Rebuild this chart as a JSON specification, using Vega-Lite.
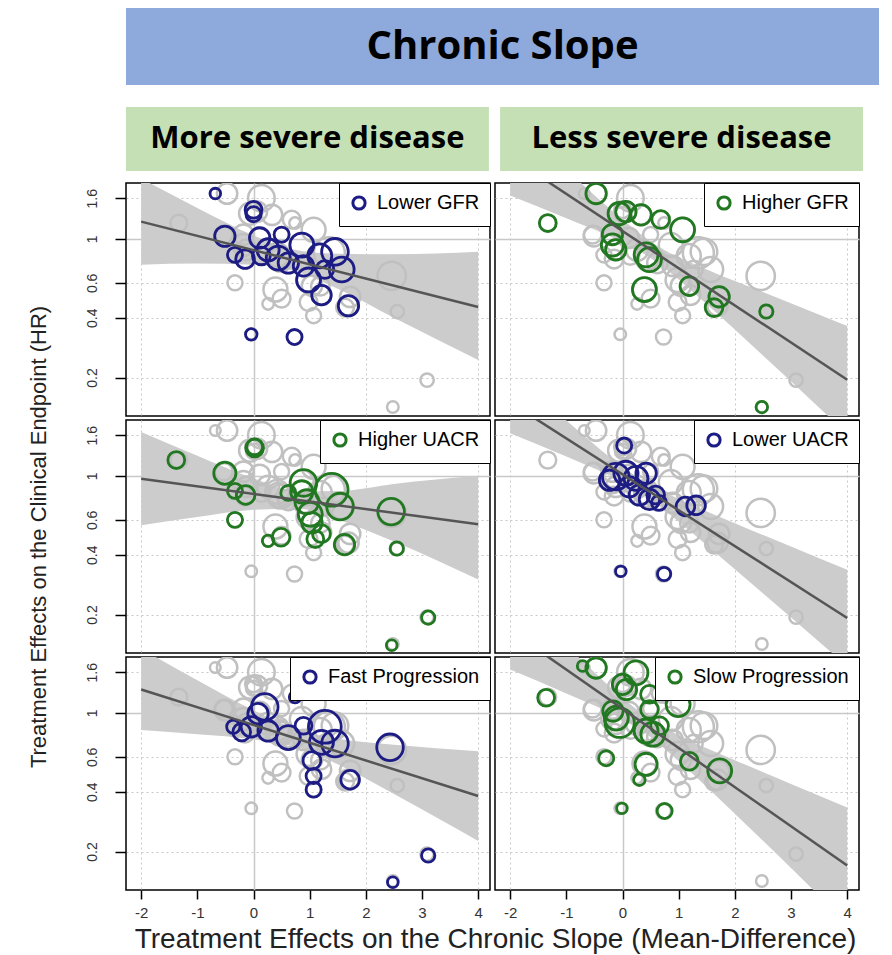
{
  "$schema": "https://vega.github.io/schema/vega-lite/v6.json",
  "background": "white",
  "padding": {"left": 26, "top": 8, "right": 10, "bottom": 2},
  "bounds": "flush",
  "spacing": 22,
  "datasets": {
    "studies": [
      {"x": -0.68, "hr": 1.69, "w": 12}, {"x": 0.0, "hr": 1.40, "w": 19}, {"x": 0.0, "hr": 1.33, "w": 17},
      {"x": -0.51, "hr": 1.03, "w": 23}, {"x": -0.33, "hr": 0.83, "w": 17}, {"x": -0.15, "hr": 0.79, "w": 21},
      {"x": 0.11, "hr": 1.01, "w": 23}, {"x": 0.26, "hr": 0.88, "w": 25}, {"x": 0.5, "hr": 1.05, "w": 17},
      {"x": 0.44, "hr": 0.80, "w": 27}, {"x": 0.62, "hr": 0.755, "w": 23}, {"x": 0.86, "hr": 0.93, "w": 27},
      {"x": 0.89, "hr": 0.73, "w": 23}, {"x": 0.98, "hr": 0.62, "w": 27}, {"x": 1.18, "hr": 0.82, "w": 27},
      {"x": 1.45, "hr": 0.86, "w": 30}, {"x": 1.57, "hr": 0.70, "w": 28}, {"x": 1.21, "hr": 0.52, "w": 22},
      {"x": 1.69, "hr": 0.46, "w": 23}, {"x": -0.04, "hr": 0.33, "w": 13}, {"x": 0.73, "hr": 0.32, "w": 17},
      {"x": 1.27, "hr": 0.70, "w": 20}, {"x": 0.14, "hr": 0.82, "w": 20},
      {"x": -0.47, "hr": 1.69, "w": 23}, {"x": -1.33, "hr": 1.20, "w": 19}, {"x": -0.06, "hr": 1.34, "w": 25},
      {"x": 0.06, "hr": 1.37, "w": 23}, {"x": 0.33, "hr": 1.32, "w": 23}, {"x": 0.68, "hr": 1.25, "w": 20},
      {"x": 1.07, "hr": 1.11, "w": 27}, {"x": -0.18, "hr": 1.05, "w": 23}, {"x": -0.18, "hr": 0.93, "w": 25},
      {"x": -0.12, "hr": 0.88, "w": 23}, {"x": 0.42, "hr": 0.83, "w": 27}, {"x": 0.48, "hr": 0.785, "w": 27},
      {"x": 0.39, "hr": 0.555, "w": 27}, {"x": 1.19, "hr": 0.577, "w": 21}, {"x": 1.72, "hr": 0.51, "w": 23},
      {"x": 1.63, "hr": 0.45, "w": 20}, {"x": 2.56, "hr": 0.43, "w": 15}, {"x": 2.48, "hr": 0.142, "w": 13},
      {"x": 0.14, "hr": 1.60, "w": 30}, {"x": 2.46, "hr": 0.65, "w": 32}, {"x": -0.33, "hr": 0.60, "w": 17},
      {"x": 0.5, "hr": 0.50, "w": 20}, {"x": 0.26, "hr": 0.47, "w": 13}, {"x": 1.07, "hr": 0.41, "w": 17},
      {"x": 3.09, "hr": 0.194, "w": 15}, {"x": 0.98, "hr": 0.48, "w": 20}, {"x": -0.53, "hr": 1.05, "w": 20},
      {"x": 0.74, "hr": 1.20, "w": 13}, {"x": 1.35, "hr": 0.85, "w": 35}, {"x": 1.04, "hr": 0.58, "w": 23}
    ],
    "sub": [
      {"panel": "Lower GFR", "x": -0.68, "hr": 1.69, "w": 12}, {"panel": "Lower GFR", "x": 0.0, "hr": 1.40, "w": 19},
      {"panel": "Lower GFR", "x": 0.0, "hr": 1.33, "w": 17}, {"panel": "Lower GFR", "x": -0.51, "hr": 1.03, "w": 23},
      {"panel": "Lower GFR", "x": -0.33, "hr": 0.83, "w": 17}, {"panel": "Lower GFR", "x": -0.15, "hr": 0.79, "w": 21},
      {"panel": "Lower GFR", "x": 0.11, "hr": 1.01, "w": 23}, {"panel": "Lower GFR", "x": 0.26, "hr": 0.88, "w": 25},
      {"panel": "Lower GFR", "x": 0.5, "hr": 1.05, "w": 17}, {"panel": "Lower GFR", "x": 0.44, "hr": 0.80, "w": 27},
      {"panel": "Lower GFR", "x": 0.62, "hr": 0.755, "w": 23}, {"panel": "Lower GFR", "x": 0.86, "hr": 0.93, "w": 27},
      {"panel": "Lower GFR", "x": 0.89, "hr": 0.73, "w": 23}, {"panel": "Lower GFR", "x": 0.98, "hr": 0.62, "w": 27},
      {"panel": "Lower GFR", "x": 1.18, "hr": 0.82, "w": 27}, {"panel": "Lower GFR", "x": 1.45, "hr": 0.86, "w": 30},
      {"panel": "Lower GFR", "x": 1.57, "hr": 0.70, "w": 28}, {"panel": "Lower GFR", "x": 1.21, "hr": 0.52, "w": 22},
      {"panel": "Lower GFR", "x": 1.69, "hr": 0.46, "w": 23}, {"panel": "Lower GFR", "x": -0.04, "hr": 0.33, "w": 13},
      {"panel": "Lower GFR", "x": 0.73, "hr": 0.32, "w": 17}, {"panel": "Lower GFR", "x": 1.27, "hr": 0.70, "w": 20},
      {"panel": "Lower GFR", "x": 0.14, "hr": 0.82, "w": 20},
      {"panel": "Higher GFR", "x": -0.47, "hr": 1.69, "w": 23}, {"panel": "Higher GFR", "x": -1.33, "hr": 1.20, "w": 19},
      {"panel": "Higher GFR", "x": -0.06, "hr": 1.34, "w": 25}, {"panel": "Higher GFR", "x": 0.06, "hr": 1.37, "w": 23},
      {"panel": "Higher GFR", "x": 0.33, "hr": 1.32, "w": 23}, {"panel": "Higher GFR", "x": 0.68, "hr": 1.25, "w": 20},
      {"panel": "Higher GFR", "x": 1.07, "hr": 1.11, "w": 27}, {"panel": "Higher GFR", "x": -0.18, "hr": 1.05, "w": 23},
      {"panel": "Higher GFR", "x": -0.18, "hr": 0.93, "w": 25}, {"panel": "Higher GFR", "x": -0.12, "hr": 0.88, "w": 23},
      {"panel": "Higher GFR", "x": 0.42, "hr": 0.83, "w": 27}, {"panel": "Higher GFR", "x": 0.48, "hr": 0.785, "w": 27},
      {"panel": "Higher GFR", "x": 0.39, "hr": 0.555, "w": 27}, {"panel": "Higher GFR", "x": 1.19, "hr": 0.577, "w": 21},
      {"panel": "Higher GFR", "x": 1.72, "hr": 0.51, "w": 23}, {"panel": "Higher GFR", "x": 1.63, "hr": 0.45, "w": 20},
      {"panel": "Higher GFR", "x": 2.56, "hr": 0.43, "w": 15}, {"panel": "Higher GFR", "x": 2.48, "hr": 0.142, "w": 13},
      {"panel": "Higher UACR", "x": -1.375, "hr": 1.20, "w": 19}, {"panel": "Higher UACR", "x": 0.02, "hr": 1.38, "w": 20},
      {"panel": "Higher UACR", "x": 0.02, "hr": 1.40, "w": 18}, {"panel": "Higher UACR", "x": -0.51, "hr": 1.03, "w": 25},
      {"panel": "Higher UACR", "x": -0.33, "hr": 0.84, "w": 17}, {"panel": "Higher UACR", "x": -0.14, "hr": 0.80, "w": 21},
      {"panel": "Higher UACR", "x": -0.33, "hr": 0.60, "w": 17}, {"panel": "Higher UACR", "x": 0.49, "hr": 0.49, "w": 20},
      {"panel": "Higher UACR", "x": 0.26, "hr": 0.47, "w": 13}, {"panel": "Higher UACR", "x": 0.62, "hr": 0.82, "w": 17},
      {"panel": "Higher UACR", "x": 0.89, "hr": 0.92, "w": 30}, {"panel": "Higher UACR", "x": 0.86, "hr": 0.83, "w": 25},
      {"panel": "Higher UACR", "x": 0.95, "hr": 0.74, "w": 27}, {"panel": "Higher UACR", "x": 1.39, "hr": 0.85, "w": 37},
      {"panel": "Higher UACR", "x": 1.54, "hr": 0.70, "w": 30}, {"panel": "Higher UACR", "x": 1.01, "hr": 0.64, "w": 27},
      {"panel": "Higher UACR", "x": 1.04, "hr": 0.58, "w": 23}, {"panel": "Higher UACR", "x": 1.21, "hr": 0.51, "w": 20},
      {"panel": "Higher UACR", "x": 1.10, "hr": 0.48, "w": 19}, {"panel": "Higher UACR", "x": 1.62, "hr": 0.45, "w": 23},
      {"panel": "Higher UACR", "x": 2.45, "hr": 0.66, "w": 30}, {"panel": "Higher UACR", "x": 2.55, "hr": 0.43, "w": 15},
      {"panel": "Higher UACR", "x": 3.11, "hr": 0.193, "w": 15}, {"panel": "Higher UACR", "x": 2.46, "hr": 0.14, "w": 12},
      {"panel": "Lower UACR", "x": 0.03, "hr": 1.42, "w": 17}, {"panel": "Lower UACR", "x": -0.12, "hr": 0.99, "w": 30},
      {"panel": "Lower UACR", "x": 0.06, "hr": 1.03, "w": 27}, {"panel": "Lower UACR", "x": 0.24, "hr": 0.97, "w": 27},
      {"panel": "Lower UACR", "x": 0.42, "hr": 1.03, "w": 23}, {"panel": "Lower UACR", "x": 0.12, "hr": 0.88, "w": 23},
      {"panel": "Lower UACR", "x": 0.30, "hr": 0.80, "w": 23}, {"panel": "Lower UACR", "x": 0.48, "hr": 0.76, "w": 23},
      {"panel": "Lower UACR", "x": 0.59, "hr": 0.80, "w": 20}, {"panel": "Lower UACR", "x": 0.65, "hr": 0.73, "w": 17},
      {"panel": "Lower UACR", "x": 1.12, "hr": 0.70, "w": 21}, {"panel": "Lower UACR", "x": 1.31, "hr": 0.71, "w": 21},
      {"panel": "Lower UACR", "x": -0.03, "hr": 0.33, "w": 12}, {"panel": "Lower UACR", "x": 0.74, "hr": 0.32, "w": 15},
      {"panel": "Lower UACR", "x": -0.23, "hr": 0.95, "w": 23},
      {"panel": "Fast Progression", "x": 0.74, "hr": 1.20, "w": 13}, {"panel": "Fast Progression", "x": 0.2, "hr": 1.07, "w": 30},
      {"panel": "Fast Progression", "x": 0.08, "hr": 0.99, "w": 23}, {"panel": "Fast Progression", "x": -0.36, "hr": 0.85, "w": 15},
      {"panel": "Fast Progression", "x": -0.21, "hr": 0.80, "w": 20}, {"panel": "Fast Progression", "x": -0.04, "hr": 0.85, "w": 23},
      {"panel": "Fast Progression", "x": 0.26, "hr": 0.81, "w": 23}, {"panel": "Fast Progression", "x": 0.62, "hr": 0.75, "w": 27},
      {"panel": "Fast Progression", "x": 0.89, "hr": 0.86, "w": 19}, {"panel": "Fast Progression", "x": 1.27, "hr": 0.85, "w": 37},
      {"panel": "Fast Progression", "x": 1.21, "hr": 0.71, "w": 27}, {"panel": "Fast Progression", "x": 1.45, "hr": 0.70, "w": 30},
      {"panel": "Fast Progression", "x": 1.04, "hr": 0.575, "w": 20}, {"panel": "Fast Progression", "x": 1.07, "hr": 0.48, "w": 17},
      {"panel": "Fast Progression", "x": 1.07, "hr": 0.41, "w": 17}, {"panel": "Fast Progression", "x": 1.72, "hr": 0.46, "w": 21},
      {"panel": "Fast Progression", "x": 2.43, "hr": 0.67, "w": 30}, {"panel": "Fast Progression", "x": 3.11, "hr": 0.191, "w": 15},
      {"panel": "Fast Progression", "x": 2.48, "hr": 0.14, "w": 12},
      {"panel": "Slow Progression", "x": -1.36, "hr": 1.19, "w": 19}, {"panel": "Slow Progression", "x": -0.71, "hr": 1.72, "w": 12},
      {"panel": "Slow Progression", "x": -0.47, "hr": 1.68, "w": 23}, {"panel": "Slow Progression", "x": 0.0, "hr": 1.39, "w": 23},
      {"panel": "Slow Progression", "x": 0.07, "hr": 1.31, "w": 23}, {"panel": "Slow Progression", "x": 0.24, "hr": 1.59, "w": 27},
      {"panel": "Slow Progression", "x": 0.48, "hr": 1.24, "w": 20}, {"panel": "Slow Progression", "x": 0.99, "hr": 1.10, "w": 27},
      {"panel": "Slow Progression", "x": -0.17, "hr": 1.02, "w": 23}, {"panel": "Slow Progression", "x": -0.11, "hr": 0.94, "w": 27},
      {"panel": "Slow Progression", "x": -0.05, "hr": 0.89, "w": 33}, {"panel": "Slow Progression", "x": 0.48, "hr": 1.04, "w": 20},
      {"panel": "Slow Progression", "x": 0.42, "hr": 0.81, "w": 27}, {"panel": "Slow Progression", "x": 0.54, "hr": 0.78, "w": 27},
      {"panel": "Slow Progression", "x": 0.66, "hr": 0.86, "w": 20}, {"panel": "Slow Progression", "x": -0.29, "hr": 0.59, "w": 17},
      {"panel": "Slow Progression", "x": 0.42, "hr": 0.55, "w": 25}, {"panel": "Slow Progression", "x": 0.30, "hr": 0.46, "w": 13},
      {"panel": "Slow Progression", "x": 1.19, "hr": 0.57, "w": 20}, {"panel": "Slow Progression", "x": 1.73, "hr": 0.51, "w": 27},
      {"panel": "Slow Progression", "x": -0.01, "hr": 0.33, "w": 12}, {"panel": "Slow Progression", "x": 0.75, "hr": 0.32, "w": 17}
    ],
    "fit": [
      {"panel": "Lower GFR", "x": -2, "hr": 1.22}, {"panel": "Lower GFR", "x": 4, "hr": 0.453},
      {"panel": "Higher GFR", "x": -2, "hr": 2.59}, {"panel": "Higher GFR", "x": 4, "hr": 0.195},
      {"panel": "Higher UACR", "x": -2, "hr": 0.966}, {"panel": "Higher UACR", "x": 4, "hr": 0.57},
      {"panel": "Lower UACR", "x": -2, "hr": 2.34}, {"panel": "Lower UACR", "x": 4, "hr": 0.192},
      {"panel": "Fast Progression", "x": -2, "hr": 1.31}, {"panel": "Fast Progression", "x": 4, "hr": 0.381},
      {"panel": "Slow Progression", "x": -2, "hr": 2.6}, {"panel": "Slow Progression", "x": 4, "hr": 0.17}
    ],
    "band": [
      {"panel": "Lower GFR", "x": -2, "lo": 0.74, "hi": 2.01}, {"panel": "Lower GFR", "x": -1, "lo": 0.75, "hi": 1.43},
      {"panel": "Lower GFR", "x": 0, "lo": 0.74, "hi": 1.04}, {"panel": "Lower GFR", "x": 0.64, "lo": 0.70, "hi": 0.89},
      {"panel": "Lower GFR", "x": 1.5, "lo": 0.56, "hi": 0.84}, {"panel": "Lower GFR", "x": 2.5, "lo": 0.40, "hi": 0.835},
      {"panel": "Lower GFR", "x": 4, "lo": 0.245, "hi": 0.86},
      {"panel": "Higher GFR", "x": -2, "lo": 1.65, "hi": 4.06}, {"panel": "Higher GFR", "x": -1, "lo": 1.27, "hi": 2.23},
      {"panel": "Higher GFR", "x": 0, "lo": 0.96, "hi": 1.25}, {"panel": "Higher GFR", "x": 0.5, "lo": 0.80, "hi": 0.97},
      {"panel": "Higher GFR", "x": 1.5, "lo": 0.468, "hi": 0.70}, {"panel": "Higher GFR", "x": 2.5, "lo": 0.258, "hi": 0.54},
      {"panel": "Higher GFR", "x": 4, "lo": 0.104, "hi": 0.364},
      {"panel": "Higher UACR", "x": -2, "lo": 0.563, "hi": 1.66}, {"panel": "Higher UACR", "x": -1, "lo": 0.62, "hi": 1.26},
      {"panel": "Higher UACR", "x": 0, "lo": 0.675, "hi": 0.97}, {"panel": "Higher UACR", "x": 0.8, "lo": 0.683, "hi": 0.834},
      {"panel": "Higher UACR", "x": 1.5, "lo": 0.603, "hi": 0.837}, {"panel": "Higher UACR", "x": 2.5, "lo": 0.466, "hi": 0.91},
      {"panel": "Higher UACR", "x": 4, "lo": 0.30, "hi": 1.0},
      {"panel": "Lower UACR", "x": -2, "lo": 1.64, "hi": 3.33}, {"panel": "Lower UACR", "x": -1, "lo": 1.25, "hi": 1.90},
      {"panel": "Lower UACR", "x": 0, "lo": 0.93, "hi": 1.11}, {"panel": "Lower UACR", "x": 0.3, "lo": 0.83, "hi": 0.97},
      {"panel": "Lower UACR", "x": 1, "lo": 0.587, "hi": 0.765}, {"panel": "Lower UACR", "x": 2, "lo": 0.338, "hi": 0.577},
      {"panel": "Lower UACR", "x": 3, "lo": 0.193, "hi": 0.44}, {"panel": "Lower UACR", "x": 4, "lo": 0.11, "hi": 0.336},
      {"panel": "Fast Progression", "x": -2, "lo": 0.82, "hi": 2.10}, {"panel": "Fast Progression", "x": -1, "lo": 0.78, "hi": 1.46},
      {"panel": "Fast Progression", "x": 0, "lo": 0.735, "hi": 1.03}, {"panel": "Fast Progression", "x": 0.85, "lo": 0.66, "hi": 0.81},
      {"panel": "Fast Progression", "x": 1.5, "lo": 0.55, "hi": 0.74}, {"panel": "Fast Progression", "x": 2.5, "lo": 0.39, "hi": 0.69},
      {"panel": "Fast Progression", "x": 4, "lo": 0.226, "hi": 0.64},
      {"panel": "Slow Progression", "x": -2, "lo": 1.65, "hi": 4.08}, {"panel": "Slow Progression", "x": -1, "lo": 1.25, "hi": 2.18},
      {"panel": "Slow Progression", "x": 0, "lo": 0.926, "hi": 1.19}, {"panel": "Slow Progression", "x": 0.4, "lo": 0.79, "hi": 0.966},
      {"panel": "Slow Progression", "x": 1, "lo": 0.57, "hi": 0.77}, {"panel": "Slow Progression", "x": 2, "lo": 0.31, "hi": 0.577},
      {"panel": "Slow Progression", "x": 3, "lo": 0.165, "hi": 0.438}, {"panel": "Slow Progression", "x": 4, "lo": 0.087, "hi": 0.333}
    ]
  },
  "vconcat": [
    {
      "width": 753, "height": 77,
      "view": {"fill": "#8EA9DB", "stroke": null},
      "data": {"values": [{"label": "Chronic Slope"}]},
      "mark": {"type": "text", "font": "Open Sans", "fontWeight": "bold", "fontSize": 40, "color": "black", "baseline": "middle", "align": "center"},
      "encoding": {"text": {"field": "label"}}
    },
    {
      "bounds": "flush",
      "spacing": 12,
      "vconcat": [
        {
          "width": 737, "height": 64,
          "view": {"stroke": null},
          "data": {"values": [{"h": "More severe disease"}, {"h": "Less severe disease"}]},
          "layer": [
            {"mark": {"type": "rect", "color": "#C5E0B4"},
             "encoding": {"x": {"field": "h", "type": "nominal", "sort": null, "scale": {"paddingInner": 0.03, "paddingOuter": 0}, "axis": null}}},
            {"mark": {"type": "text", "font": "Open Sans", "fontWeight": "bold", "fontSize": 31, "color": "black", "baseline": "middle", "align": "center"},
             "encoding": {"x": {"field": "h", "type": "nominal", "sort": null, "axis": null}, "text": {"field": "h"}}}
          ]
        },
        {
          "columns": 2,
          "bounds": "flush",
          "spacing": {"row": 4, "column": 5},
          "resolve": {"scale": {"x": "independent", "y": "independent", "color": "independent", "size": "independent"}, "legend": {"color": "independent", "size": "independent"}},
          "concat": [
            {
              "width": 364, "height": 233,
              "layer": [
                {"data": {"name": "band"}, "transform": [{"filter": {"field": "panel", "equal": "Lower GFR"}}],
                 "mark": {"type": "area", "color": "#cccccc", "opacity": 1, "clip": true, "interpolate": "monotone"},
                 "encoding": {
                   "x": {"field": "x", "type": "quantitative", "scale": {"domain": [-2.27, 4.21], "nice": false, "zero": false},
                         "axis": {"values": [-2, -1, 0, 1, 2, 3, 4], "title": null, "labels": false, "ticks": false,
                                  "gridDash": {"condition": {"test": "datum.value === 0", "value": []}, "value": [2, 3]},
                                  "gridWidth": {"condition": {"test": "datum.value === 0", "value": 1.5}, "value": 1},
                                  "gridOpacity": {"condition": {"test": "datum.value === -1 || datum.value === 1 || datum.value === 3", "value": 0}, "value": 1}}},
                   "y": {"field": "lo", "type": "quantitative", "scale": {"type": "log", "domain": [0.128, 1.91], "nice": false},
                         "axis": {"values": [0.2, 0.4, 0.6, 1, 1.6], "labelExpr": "'' + datum.value", "title": null, "tickSize": 11, "labelAngle": 270, "labelAlign": "center", "labelBaseline": "bottom", "labelPadding": 16, "labelFontSize": 14,
                                  "gridDash": {"condition": {"test": "datum.value === 1", "value": []}, "value": [2, 3]},
                                  "gridWidth": {"condition": {"test": "datum.value === 1", "value": 1.5}, "value": 1}}},
                   "y2": {"field": "hi"}}},
                {"data": {"name": "studies"},
                 "mark": {"type": "point", "filled": false, "color": "#c0c0c0", "strokeWidth": 2.5, "opacity": 1, "clip": true},
                 "encoding": {"x": {"field": "x", "type": "quantitative"}, "y": {"field": "hr", "type": "quantitative"},
                              "size": {"field": "w", "type": "quantitative", "scale": {"type": "pow", "exponent": 2, "domain": [0, 40], "range": [0, 1257]}, "legend": null}}},
                {"data": {"name": "sub"}, "transform": [{"filter": {"field": "panel", "equal": "Lower GFR"}}],
                 "mark": {"type": "point", "filled": false, "strokeWidth": 2.8, "opacity": 1, "clip": true},
                 "encoding": {"x": {"field": "x", "type": "quantitative"}, "y": {"field": "hr", "type": "quantitative"},
                              "size": {"field": "w", "type": "quantitative", "scale": {"type": "pow", "exponent": 2, "domain": [0, 40], "range": [0, 1257]}, "legend": null},
                              "color": {"field": "panel", "type": "nominal", "scale": {"domain": ["Lower GFR"], "range": ["#1c1c84"]}, "legend": {"title": null, "orient": "top-right", "offset": 0}}}},
                {"data": {"name": "fit"}, "transform": [{"filter": {"field": "panel", "equal": "Lower GFR"}}],
                 "mark": {"type": "line", "color": "#555555", "strokeWidth": 2.5, "clip": true},
                 "encoding": {"x": {"field": "x", "type": "quantitative"}, "y": {"field": "hr", "type": "quantitative"}}}
              ]
            },
            {
              "width": 364, "height": 233,
              "layer": [
                {"data": {"name": "band"}, "transform": [{"filter": {"field": "panel", "equal": "Higher GFR"}}],
                 "mark": {"type": "area", "color": "#cccccc", "opacity": 1, "clip": true, "interpolate": "monotone"},
                 "encoding": {
                   "x": {"field": "x", "type": "quantitative", "scale": {"domain": [-2.27, 4.21], "nice": false, "zero": false},
                         "axis": {"values": [-2, -1, 0, 1, 2, 3, 4], "title": null, "labels": false, "ticks": false,
                                  "gridDash": {"condition": {"test": "datum.value === 0", "value": []}, "value": [2, 3]},
                                  "gridWidth": {"condition": {"test": "datum.value === 0", "value": 1.5}, "value": 1},
                                  "gridOpacity": {"condition": {"test": "datum.value === -1 || datum.value === 1 || datum.value === 3", "value": 0}, "value": 1}}},
                   "y": {"field": "lo", "type": "quantitative", "scale": {"type": "log", "domain": [0.128, 1.91], "nice": false},
                         "axis": {"values": [0.2, 0.4, 0.6, 1, 1.6], "title": null, "labels": false, "ticks": false,
                                  "gridDash": {"condition": {"test": "datum.value === 1", "value": []}, "value": [2, 3]},
                                  "gridWidth": {"condition": {"test": "datum.value === 1", "value": 1.5}, "value": 1}}},
                   "y2": {"field": "hi"}}},
                {"data": {"name": "studies"},
                 "mark": {"type": "point", "filled": false, "color": "#c0c0c0", "strokeWidth": 2.5, "opacity": 1, "clip": true},
                 "encoding": {"x": {"field": "x", "type": "quantitative"}, "y": {"field": "hr", "type": "quantitative"},
                              "size": {"field": "w", "type": "quantitative", "scale": {"type": "pow", "exponent": 2, "domain": [0, 40], "range": [0, 1257]}, "legend": null}}},
                {"data": {"name": "sub"}, "transform": [{"filter": {"field": "panel", "equal": "Higher GFR"}}],
                 "mark": {"type": "point", "filled": false, "strokeWidth": 2.8, "opacity": 1, "clip": true},
                 "encoding": {"x": {"field": "x", "type": "quantitative"}, "y": {"field": "hr", "type": "quantitative"},
                              "size": {"field": "w", "type": "quantitative", "scale": {"type": "pow", "exponent": 2, "domain": [0, 40], "range": [0, 1257]}, "legend": null},
                              "color": {"field": "panel", "type": "nominal", "scale": {"domain": ["Higher GFR"], "range": ["#217821"]}, "legend": {"title": null, "orient": "top-right", "offset": 0}}}},
                {"data": {"name": "fit"}, "transform": [{"filter": {"field": "panel", "equal": "Higher GFR"}}],
                 "mark": {"type": "line", "color": "#555555", "strokeWidth": 2.5, "clip": true},
                 "encoding": {"x": {"field": "x", "type": "quantitative"}, "y": {"field": "hr", "type": "quantitative"}}}
              ]
            },
            {
              "width": 364, "height": 233,
              "layer": [
                {"data": {"name": "band"}, "transform": [{"filter": {"field": "panel", "equal": "Higher UACR"}}],
                 "mark": {"type": "area", "color": "#cccccc", "opacity": 1, "clip": true, "interpolate": "monotone"},
                 "encoding": {
                   "x": {"field": "x", "type": "quantitative", "scale": {"domain": [-2.27, 4.21], "nice": false, "zero": false},
                         "axis": {"values": [-2, -1, 0, 1, 2, 3, 4], "title": null, "labels": false, "ticks": false,
                                  "gridDash": {"condition": {"test": "datum.value === 0", "value": []}, "value": [2, 3]},
                                  "gridWidth": {"condition": {"test": "datum.value === 0", "value": 1.5}, "value": 1},
                                  "gridOpacity": {"condition": {"test": "datum.value === -1 || datum.value === 1 || datum.value === 3", "value": 0}, "value": 1}}},
                   "y": {"field": "lo", "type": "quantitative", "scale": {"type": "log", "domain": [0.128, 1.91], "nice": false},
                         "axis": {"values": [0.2, 0.4, 0.6, 1, 1.6], "labelExpr": "'' + datum.value", "title": "Treatment Effects on the Clinical Endpoint (HR)", "titleFontSize": 22, "titlePadding": 35,
                                  "tickSize": 11, "labelAngle": 270, "labelAlign": "center", "labelBaseline": "bottom", "labelPadding": 16, "labelFontSize": 14,
                                  "gridDash": {"condition": {"test": "datum.value === 1", "value": []}, "value": [2, 3]},
                                  "gridWidth": {"condition": {"test": "datum.value === 1", "value": 1.5}, "value": 1}}},
                   "y2": {"field": "hi"}}},
                {"data": {"name": "studies"},
                 "mark": {"type": "point", "filled": false, "color": "#c0c0c0", "strokeWidth": 2.5, "opacity": 1, "clip": true},
                 "encoding": {"x": {"field": "x", "type": "quantitative"}, "y": {"field": "hr", "type": "quantitative"},
                              "size": {"field": "w", "type": "quantitative", "scale": {"type": "pow", "exponent": 2, "domain": [0, 40], "range": [0, 1257]}, "legend": null}}},
                {"data": {"name": "sub"}, "transform": [{"filter": {"field": "panel", "equal": "Higher UACR"}}],
                 "mark": {"type": "point", "filled": false, "strokeWidth": 2.8, "opacity": 1, "clip": true},
                 "encoding": {"x": {"field": "x", "type": "quantitative"}, "y": {"field": "hr", "type": "quantitative"},
                              "size": {"field": "w", "type": "quantitative", "scale": {"type": "pow", "exponent": 2, "domain": [0, 40], "range": [0, 1257]}, "legend": null},
                              "color": {"field": "panel", "type": "nominal", "scale": {"domain": ["Higher UACR"], "range": ["#217821"]}, "legend": {"title": null, "orient": "top-right", "offset": 0}}}},
                {"data": {"name": "fit"}, "transform": [{"filter": {"field": "panel", "equal": "Higher UACR"}}],
                 "mark": {"type": "line", "color": "#555555", "strokeWidth": 2.5, "clip": true},
                 "encoding": {"x": {"field": "x", "type": "quantitative"}, "y": {"field": "hr", "type": "quantitative"}}}
              ]
            },
            {
              "width": 364, "height": 233,
              "layer": [
                {"data": {"name": "band"}, "transform": [{"filter": {"field": "panel", "equal": "Lower UACR"}}],
                 "mark": {"type": "area", "color": "#cccccc", "opacity": 1, "clip": true, "interpolate": "monotone"},
                 "encoding": {
                   "x": {"field": "x", "type": "quantitative", "scale": {"domain": [-2.27, 4.21], "nice": false, "zero": false},
                         "axis": {"values": [-2, -1, 0, 1, 2, 3, 4], "title": null, "labels": false, "ticks": false,
                                  "gridDash": {"condition": {"test": "datum.value === 0", "value": []}, "value": [2, 3]},
                                  "gridWidth": {"condition": {"test": "datum.value === 0", "value": 1.5}, "value": 1},
                                  "gridOpacity": {"condition": {"test": "datum.value === -1 || datum.value === 1 || datum.value === 3", "value": 0}, "value": 1}}},
                   "y": {"field": "lo", "type": "quantitative", "scale": {"type": "log", "domain": [0.128, 1.91], "nice": false},
                         "axis": {"values": [0.2, 0.4, 0.6, 1, 1.6], "title": null, "labels": false, "ticks": false,
                                  "gridDash": {"condition": {"test": "datum.value === 1", "value": []}, "value": [2, 3]},
                                  "gridWidth": {"condition": {"test": "datum.value === 1", "value": 1.5}, "value": 1}}},
                   "y2": {"field": "hi"}}},
                {"data": {"name": "studies"},
                 "mark": {"type": "point", "filled": false, "color": "#c0c0c0", "strokeWidth": 2.5, "opacity": 1, "clip": true},
                 "encoding": {"x": {"field": "x", "type": "quantitative"}, "y": {"field": "hr", "type": "quantitative"},
                              "size": {"field": "w", "type": "quantitative", "scale": {"type": "pow", "exponent": 2, "domain": [0, 40], "range": [0, 1257]}, "legend": null}}},
                {"data": {"name": "sub"}, "transform": [{"filter": {"field": "panel", "equal": "Lower UACR"}}],
                 "mark": {"type": "point", "filled": false, "strokeWidth": 2.8, "opacity": 1, "clip": true},
                 "encoding": {"x": {"field": "x", "type": "quantitative"}, "y": {"field": "hr", "type": "quantitative"},
                              "size": {"field": "w", "type": "quantitative", "scale": {"type": "pow", "exponent": 2, "domain": [0, 40], "range": [0, 1257]}, "legend": null},
                              "color": {"field": "panel", "type": "nominal", "scale": {"domain": ["Lower UACR"], "range": ["#1c1c84"]}, "legend": {"title": null, "orient": "top-right", "offset": 0}}}},
                {"data": {"name": "fit"}, "transform": [{"filter": {"field": "panel", "equal": "Lower UACR"}}],
                 "mark": {"type": "line", "color": "#555555", "strokeWidth": 2.5, "clip": true},
                 "encoding": {"x": {"field": "x", "type": "quantitative"}, "y": {"field": "hr", "type": "quantitative"}}}
              ]
            },
            {
              "width": 364, "height": 233,
              "layer": [
                {"data": {"name": "band"}, "transform": [{"filter": {"field": "panel", "equal": "Fast Progression"}}],
                 "mark": {"type": "area", "color": "#cccccc", "opacity": 1, "clip": true, "interpolate": "monotone"},
                 "encoding": {
                   "x": {"field": "x", "type": "quantitative", "scale": {"domain": [-2.27, 4.21], "nice": false, "zero": false},
                         "axis": {"values": [-2, -1, 0, 1, 2, 3, 4], "labelExpr": "'' + datum.value", "title": "Treatment Effects on the Chronic Slope (Mean-Difference)", "titleX": 369, "titleFontSize": 28, "titlePadding": 5,
                                  "tickSize": 9, "labelFontSize": 15, "labelPadding": 6,
                                  "gridDash": {"condition": {"test": "datum.value === 0", "value": []}, "value": [2, 3]},
                                  "gridWidth": {"condition": {"test": "datum.value === 0", "value": 1.5}, "value": 1},
                                  "gridOpacity": {"condition": {"test": "datum.value === -1 || datum.value === 1 || datum.value === 3", "value": 0}, "value": 1}}},
                   "y": {"field": "lo", "type": "quantitative", "scale": {"type": "log", "domain": [0.128, 1.91], "nice": false},
                         "axis": {"values": [0.2, 0.4, 0.6, 1, 1.6], "labelExpr": "'' + datum.value", "title": null, "tickSize": 11, "labelAngle": 270, "labelAlign": "center", "labelBaseline": "bottom", "labelPadding": 16, "labelFontSize": 14,
                                  "gridDash": {"condition": {"test": "datum.value === 1", "value": []}, "value": [2, 3]},
                                  "gridWidth": {"condition": {"test": "datum.value === 1", "value": 1.5}, "value": 1}}},
                   "y2": {"field": "hi"}}},
                {"data": {"name": "studies"},
                 "mark": {"type": "point", "filled": false, "color": "#c0c0c0", "strokeWidth": 2.5, "opacity": 1, "clip": true},
                 "encoding": {"x": {"field": "x", "type": "quantitative"}, "y": {"field": "hr", "type": "quantitative"},
                              "size": {"field": "w", "type": "quantitative", "scale": {"type": "pow", "exponent": 2, "domain": [0, 40], "range": [0, 1257]}, "legend": null}}},
                {"data": {"name": "sub"}, "transform": [{"filter": {"field": "panel", "equal": "Fast Progression"}}],
                 "mark": {"type": "point", "filled": false, "strokeWidth": 2.8, "opacity": 1, "clip": true},
                 "encoding": {"x": {"field": "x", "type": "quantitative"}, "y": {"field": "hr", "type": "quantitative"},
                              "size": {"field": "w", "type": "quantitative", "scale": {"type": "pow", "exponent": 2, "domain": [0, 40], "range": [0, 1257]}, "legend": null},
                              "color": {"field": "panel", "type": "nominal", "scale": {"domain": ["Fast Progression"], "range": ["#1c1c84"]}, "legend": {"title": null, "orient": "top-right", "offset": 0}}}},
                {"data": {"name": "fit"}, "transform": [{"filter": {"field": "panel", "equal": "Fast Progression"}}],
                 "mark": {"type": "line", "color": "#555555", "strokeWidth": 2.5, "clip": true},
                 "encoding": {"x": {"field": "x", "type": "quantitative"}, "y": {"field": "hr", "type": "quantitative"}}}
              ]
            },
            {
              "width": 364, "height": 233,
              "layer": [
                {"data": {"name": "band"}, "transform": [{"filter": {"field": "panel", "equal": "Slow Progression"}}],
                 "mark": {"type": "area", "color": "#cccccc", "opacity": 1, "clip": true, "interpolate": "monotone"},
                 "encoding": {
                   "x": {"field": "x", "type": "quantitative", "scale": {"domain": [-2.27, 4.21], "nice": false, "zero": false},
                         "axis": {"values": [-2, -1, 0, 1, 2, 3, 4], "labelExpr": "'' + datum.value", "title": null, "tickSize": 9, "labelFontSize": 15, "labelPadding": 6,
                                  "gridDash": {"condition": {"test": "datum.value === 0", "value": []}, "value": [2, 3]},
                                  "gridWidth": {"condition": {"test": "datum.value === 0", "value": 1.5}, "value": 1},
                                  "gridOpacity": {"condition": {"test": "datum.value === -1 || datum.value === 1 || datum.value === 3", "value": 0}, "value": 1}}},
                   "y": {"field": "lo", "type": "quantitative", "scale": {"type": "log", "domain": [0.128, 1.91], "nice": false},
                         "axis": {"values": [0.2, 0.4, 0.6, 1, 1.6], "title": null, "labels": false, "ticks": false,
                                  "gridDash": {"condition": {"test": "datum.value === 1", "value": []}, "value": [2, 3]},
                                  "gridWidth": {"condition": {"test": "datum.value === 1", "value": 1.5}, "value": 1}}},
                   "y2": {"field": "hi"}}},
                {"data": {"name": "studies"},
                 "mark": {"type": "point", "filled": false, "color": "#c0c0c0", "strokeWidth": 2.5, "opacity": 1, "clip": true},
                 "encoding": {"x": {"field": "x", "type": "quantitative"}, "y": {"field": "hr", "type": "quantitative"},
                              "size": {"field": "w", "type": "quantitative", "scale": {"type": "pow", "exponent": 2, "domain": [0, 40], "range": [0, 1257]}, "legend": null}}},
                {"data": {"name": "sub"}, "transform": [{"filter": {"field": "panel", "equal": "Slow Progression"}}],
                 "mark": {"type": "point", "filled": false, "strokeWidth": 2.8, "opacity": 1, "clip": true},
                 "encoding": {"x": {"field": "x", "type": "quantitative"}, "y": {"field": "hr", "type": "quantitative"},
                              "size": {"field": "w", "type": "quantitative", "scale": {"type": "pow", "exponent": 2, "domain": [0, 40], "range": [0, 1257]}, "legend": null},
                              "color": {"field": "panel", "type": "nominal", "scale": {"domain": ["Slow Progression"], "range": ["#217821"]}, "legend": {"title": null, "orient": "top-right", "offset": 0}}}},
                {"data": {"name": "fit"}, "transform": [{"filter": {"field": "panel", "equal": "Slow Progression"}}],
                 "mark": {"type": "line", "color": "#555555", "strokeWidth": 2.5, "clip": true},
                 "encoding": {"x": {"field": "x", "type": "quantitative"}, "y": {"field": "hr", "type": "quantitative"}}}
              ]
            }
          ]
        }
      ]
    }
  ],
  "config": {
    "font": "Liberation Sans",
    "view": {"stroke": "black", "strokeWidth": 1.5},
    "axis": {"labelFont": "Liberation Sans", "titleFont": "Liberation Sans", "grid": true, "gridColor": "#c8c8c8", "domain": false,
             "tickColor": "black", "tickWidth": 1.5, "labelColor": "#333333", "labelFlush": false, "labelOverlap": false,
             "titleFontWeight": "normal", "titleColor": "#222222"},
    "legend": {"fillColor": "white", "strokeColor": "black", "padding": 10, "cornerRadius": 0, "labelFont": "Liberation Sans",
               "labelFontSize": 20, "labelColor": "black", "symbolSize": 150, "symbolStrokeWidth": 3, "labelOffset": 8, "symbolType": "circle"}
  }
}
